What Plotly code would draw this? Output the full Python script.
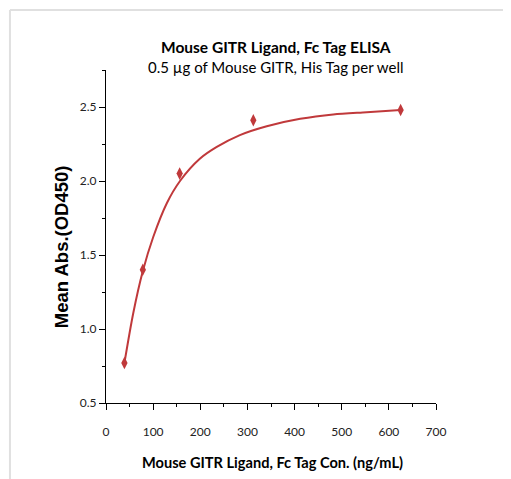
import plotly.graph_objects as go

# Measured points
conc = [39.06, 78.13, 156.25, 312.5, 625]
od450 = [0.77, 1.40, 2.05, 2.41, 2.48]

# Fitted curve
curve_x = [39, 58, 78, 100, 129, 157, 199, 235, 284, 341, 412, 482, 553, 625]
curve_y = [0.77, 1.11, 1.39, 1.62, 1.85, 2.00, 2.15, 2.23, 2.31, 2.37, 2.42, 2.45, 2.465, 2.48]

x_ticks = [0, 100, 200, 300, 400, 500, 600, 700]
y_ticks = [0.5, 1.0, 1.5, 2.0, 2.5]

red = "#C0393B"
tickfont = dict(family="Lato", size=12, color="#222")

fig = go.Figure()
fig.add_trace(go.Scatter(x=curve_x, y=curve_y, mode="lines",
                         line=dict(color=red, width=2, shape="spline", smoothing=0.8),
                         hoverinfo="skip", showlegend=False))
fig.add_trace(go.Scatter(x=conc, y=od450, mode="markers",
                         marker=dict(symbol="diamond-tall", size=9, color=red),
                         showlegend=False))

fig.update_layout(
    width=503, height=471,
    margin=dict(l=98, r=75, t=62, b=76),
    paper_bgcolor="white", plot_bgcolor="white",
    xaxis=dict(range=[0, 700], tickvals=x_ticks, ticks="outside", ticklen=6,
               tickwidth=1, tickcolor="black", showline=True, linecolor="black",
               linewidth=1, showgrid=False, zeroline=False, tickfont=tickfont,
               ticklabelstandoff=12,
               minor=dict(tickvals=[50, 150, 250, 350, 450, 550, 650], ticks="outside",
                          ticklen=3, tickcolor="black")),
    yaxis=dict(range=[0.5, 2.75], tickvals=y_ticks, ticktext=["0.5", "1.0", "1.5", "2.0", "2.5"],
               ticks="outside", ticklen=6, tickwidth=1, tickcolor="black",
               showline=True, linecolor="black", linewidth=1, showgrid=False,
               zeroline=False, tickfont=tickfont,
               minor=dict(tickvals=[0.75, 1.25, 1.75, 2.25, 2.75], ticks="outside",
                          ticklen=3, tickcolor="black")),
    annotations=[
        dict(text="<b>Mouse GITR Ligand, Fc Tag ELISA</b>", xref="paper", yref="paper",
             x=0.515, y=1.069, xanchor="center", yanchor="middle", showarrow=False,
             font=dict(family="Lato", size=15.5, color="black")),
        dict(text="0.5 µg of Mouse GITR, His Tag per well", xref="paper", yref="paper",
             x=0.515, y=1.009, xanchor="center", yanchor="middle", showarrow=False,
             font=dict(family="Lato", size=15, color="black")),
        dict(text="<b>Mouse GITR Ligand, Fc Tag Con. (ng/mL)</b>", xref="paper", yref="paper",
             x=0.505, y=-0.18, xanchor="center", yanchor="middle", showarrow=False,
             font=dict(family="Lato", size=14.6, color="black")),
        dict(text="<b>Mean Abs.(OD450)</b>", xref="paper", yref="paper",
             x=-0.136, y=0.468, xanchor="center", yanchor="middle", showarrow=False,
             textangle=-90, font=dict(family="Liberation Sans", size=18.5, color="black")),
    ],
    shapes=[
        dict(type="line", xref="paper", yref="paper", x0=-0.291, x1=1.25, y0=1.18, y1=1.18,
             line=dict(color="#e0e0e0", width=2)),
        dict(type="line", xref="paper", yref="paper", x0=-0.291, x1=-0.291, y0=1.18, y1=-0.23,
             line=dict(color="#e0e0e0", width=2)),
    ],
)

fig.write_html("out.html")
